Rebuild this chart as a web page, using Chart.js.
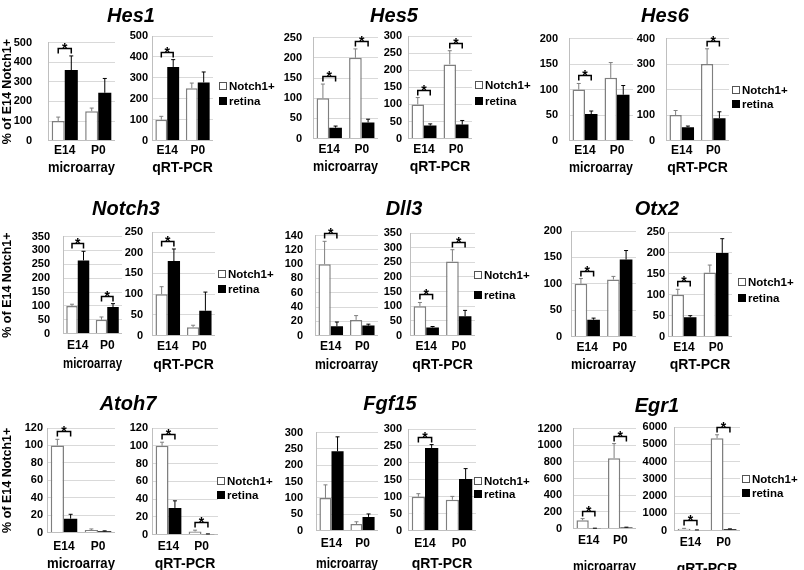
<!DOCTYPE html>
<html>
<head>
<meta charset="utf-8">
<title>Notch1+ vs retina</title>
<script src="https://cdn.jsdelivr.net/npm/chart.js@4.4.1/dist/chart.umd.min.js"></script>
<style>
    body { margin: 0; background: #fff; }
    #fig { position: relative; width: 804px; height: 570px; overflow: hidden; }
    #fig canvas { position: absolute; }
    .gene {
        position: absolute; transform: translate(-50%, -50%); white-space: nowrap;
        font: italic bold 20px "Liberation Sans", Arial, sans-serif; color: #000;
    }
    .leg {
        position: absolute; transform: translateY(-50%); white-space: nowrap;
        display: flex; align-items: center;
        font: bold 11.5px "Liberation Sans", Arial, sans-serif; color: #000;
    }
    .leg i { display: inline-block; width: 8px; height: 8px; box-sizing: border-box; margin-right: 2px; }
</style>
</head>
<body>
<div id="fig"></div>
<script>
// ── Data ─────────────────────────────────────────────────────────────────────
const genes = ['Hes1', 'Hes5', 'Hes6', 'Notch3', 'Dll3', 'Otx2', 'Atoh7', 'Fgf15', 'Egr1'];
const methods = ['microarray', 'qRT-PCR'];
const stages = ['E14', 'P0'];
const seriesNames = ['Notch1+', 'retina'];
const yTitle = '% of E14 Notch1+';

// One [E14, P0] pair per sub-chart: gene by gene, microarray then qRT-PCR
const notchMean = [
    [100, 150], [100, 250],    // Hes1
    [100, 200], [100, 217],    // Hes5
    [100, 123], [100, 300],    // Hes6
    [100, 50],  [100, 20],     // Notch3
    [100, 22],  [100, 253],    // Dll3
    [100, 108], [100, 153],    // Otx2
    [100, 3],   [100, 3.5],    // Atoh7
    [100, 20],  [100, 91],     // Fgf15
    [100, 845], [100, 5350]    // Egr1
];
const notchErr = [
    [20, 16], [16, 25],
    [35, 22], [20, 40],
    [12, 30], [18, 60],
    [6, 10],  [18, 5],
    [32, 6],  [13, 40],
    [10, 6],  [13, 18],
    [7, 1.2], [4, 1.5],
    [40, 7],  [9, 10],
    [20, 175], [30, 200]
];
const retinaMean = [
    [360, 244], [352, 278],
    [27, 40],   [38, 41],
    [52, 90],   [52, 88],
    [264, 96],  [180, 60],
    [13, 14],   [28, 66],
    [32, 146],  [46, 200],
    [16, 1.5],  [30, 0.5],
    [243, 42],  [244, 152],
    [4, 14],    [30, 80]
];
const retinaErr = [
    [72, 73], [35, 50],
    [4, 8],   [5, 12],
    [6, 18],  [5, 25],
    [33, 12], [29, 45],
    [6, 2],   [3, 20],
    [3, 17],  [4, 34],
    [5, 0.5], [8, 0.3],
    [44, 9],  [10, 31],
    [1, 3],   [10, 20]
];
// 1 = significance bracket with * over that stage
const signif = [
    [1, 0], [1, 0],
    [1, 1], [1, 1],
    [1, 0], [0, 1],
    [1, 1], [1, 0],
    [1, 0], [1, 1],
    [1, 0], [1, 0],
    [1, 0], [1, 1],
    [0, 0], [1, 0],
    [1, 1], [1, 1]
];
const yMax = [500, 500, 250, 300, 200, 400, 350, 250, 140, 350, 200, 250, 120, 120, 300, 300, 1200, 6000];
const yStep = [100, 100, 50, 50, 50, 100, 50, 50, 20, 50, 50, 50, 20, 20, 50, 50, 200, 1000];

// ── Layout (page pixels) ─────────────────────────────────────────────────────
// per sub-chart: [axis x, plot right, plot top, zero line, tick label right edge,
//                 stage label gap, method label gap]
const plotBoxes = [
    [48, 115, 36, 141, 32, 10, 28],   [152, 213, 36, 141, 148, 10, 28],
    [313, 378, 36, 139, 302, 11, 29], [408, 472, 36, 139, 402, 11, 29],
    [569, 633, 37, 141, 558, 10, 28], [666, 729, 37, 141, 655, 10, 28],
    [63, 122, 233, 334, 50, 12, 31],  [152, 215, 232, 336, 143, 11, 30],
    [315, 378, 233, 336, 303, 11, 30], [410, 475, 233, 336, 402, 11, 30],
    [571, 636, 231, 337, 562, 11, 29], [668, 732, 232, 337, 665, 11, 29],
    [47, 115, 428, 533, 43, 14, 32],  [152, 218, 428, 535, 148, 12, 30],
    [316, 378, 429, 531, 303, 13, 34], [408, 476, 429, 531, 402, 13, 34],
    [573, 636, 427, 529, 562, 12, 39], [674, 740, 427, 531, 667, 12, 39]
];
const titlePos = [[131, 15], [394, 15], [665, 15], [126, 208], [404, 208], [657, 208], [128, 403], [390, 403], [657, 405]];
// legend: [swatch x, Notch1+ y, retina y]
const legendPos = [[219, 86, 101], [475, 85, 101], [732, 90, 104], [218, 274, 289], [474, 275, 295],
                   [738, 282, 298], [217, 481, 495], [474, 481, 494], [742, 479, 493]];

const FONT = '"Liberation Sans", Arial, sans-serif';
const GRID = '#d9d9d9';
const AXIS = '#bfbfbf';
const TOP_PAD = 16;

// ── Error bars + significance brackets ───────────────────────────────────────
const errorBars = {
    id: 'errorBars',
    afterDatasetsDraw(chart, args, opts) {
        const { ctx } = chart;
        const y = chart.scales.y;
        const tops = [[], []];
        ctx.save();
        chart.data.datasets.forEach((ds, di) => {
            chart.getDatasetMeta(di).data.forEach((bar, j) => {
                const top = y.getPixelForValue(ds.data[j] + opts.errors[di][j]);
                tops[di][j] = top;
                ctx.strokeStyle = di === 0 ? '#7f7f7f' : '#000';
                ctx.lineWidth = 1;
                ctx.beginPath();
                ctx.moveTo(bar.x, bar.y);
                ctx.lineTo(bar.x, top);
                ctx.moveTo(bar.x - 2, top);
                ctx.lineTo(bar.x + 2, top);
                ctx.stroke();
            });
        });
        opts.signif.forEach((s, j) => {
            if (!s) return;
            const a = chart.getDatasetMeta(0).data[j];
            const b = chart.getDatasetMeta(1).data[j];
            const yb = Math.round(Math.min(tops[0][j], tops[1][j]) - 8) + 0.5;
            ctx.strokeStyle = '#000';
            ctx.lineWidth = 1.5;
            ctx.beginPath();
            ctx.moveTo(a.x, yb + 5);
            ctx.lineTo(a.x, yb);
            ctx.lineTo(b.x, yb);
            ctx.lineTo(b.x, yb + 5);
            ctx.stroke();
            ctx.fillStyle = '#000';
            ctx.font = 'bold 14px ' + FONT;
            ctx.textAlign = 'center';
            ctx.textBaseline = 'alphabetic';
            ctx.fillText('*', (a.x + b.x) / 2, yb + 4);
        });
        ctx.restore();
    }
};

// ── Build ────────────────────────────────────────────────────────────────────
const fig = document.getElementById('fig');

function makeChart(i) {
    const [axisX, right, top, zero, labelEnd, catGap, methodGap] = plotBoxes[i];
    const m = i % 2;
    const withTitle = m === 0 && Math.floor(i / 2) % 3 === 0;
    const left = withTitle ? 0 : labelEnd - 30;
    const xAxisH = methodGap + 8.4;
    const canvas = document.createElement('canvas');
    canvas.width = right - left;
    canvas.height = Math.round(zero - top + TOP_PAD + xAxisH);
    canvas.style.left = left + 'px';
    canvas.style.top = (top - TOP_PAD) + 'px';
    fig.appendChild(canvas);

    new Chart(canvas, {
        type: 'bar',
        data: {
            labels: stages,
            datasets: [
                {
                    label: seriesNames[0], data: notchMean[i],
                    backgroundColor: '#fff', borderColor: '#7f7f7f', borderWidth: 1.5
                },
                {
                    label: seriesNames[1], data: retinaMean[i],
                    backgroundColor: '#000', borderWidth: 0
                }
            ]
        },
        options: {
            responsive: false,
            animation: false,
            events: [],
            layout: { padding: { top: TOP_PAD, right: 0, bottom: 0, left: 0 } },
            datasets: { bar: { barPercentage: 1, categoryPercentage: 0.78 } },
            plugins: {
                legend: { display: false },
                tooltip: { enabled: false },
                errorBars: { errors: [notchErr[i], retinaErr[i]], signif: signif[i] }
            },
            scales: {
                x: {
                    grid: { display: false, drawTicks: false },
                    border: { display: true, color: AXIS, width: 1 },
                    ticks: {
                        color: '#000', padding: catGap - 7.2, maxRotation: 0, autoSkip: false,
                        font: { family: FONT, size: 12, weight: 'bold' }
                    },
                    title: {
                        display: true, text: methods[m], color: '#000', padding: 0,
                        font: { family: FONT, size: 14, weight: 'bold' }
                    },
                    afterFit: s => { s.height = xAxisH; }
                },
                y: {
                    min: 0, max: yMax[i],
                    grid: { color: GRID, lineWidth: 1, drawTicks: false },
                    border: { display: true, color: AXIS, width: 1 },
                    ticks: {
                        stepSize: yStep[i], autoSkip: false, color: '#000', padding: axisX - labelEnd,
                        font: { family: FONT, size: 11, weight: 'bold' },
                        callback: v => String(v)
                    },
                    title: {
                        display: withTitle, text: yTitle, color: '#000', padding: 0,
                        font: { family: FONT, size: 12.5, weight: 'bold' }
                    },
                    afterFit: s => { s.width = axisX - left; }
                }
            }
        },
        plugins: [errorBars]
    });
}

for (let i = 0; i < plotBoxes.length; i++) makeChart(i);

genes.forEach((g, k) => {
    const t = document.createElement('div');
    t.className = 'gene';
    t.textContent = g;
    t.style.left = titlePos[k][0] + 'px';
    t.style.top = titlePos[k][1] + 'px';
    fig.appendChild(t);

    const [lx, y0, y1] = legendPos[k];
    [y0, y1].forEach((ly, s) => {
        const row = document.createElement('div');
        row.className = 'leg';
        row.style.left = lx + 'px';
        row.style.top = ly + 'px';
        const sw = document.createElement('i');
        sw.style.background = s === 0 ? '#fff' : '#000';
        sw.style.border = '1px solid ' + (s === 0 ? '#555' : '#000');
        row.appendChild(sw);
        row.appendChild(document.createTextNode(seriesNames[s]));
        fig.appendChild(row);
    });
});
</script>
</body>
</html>
